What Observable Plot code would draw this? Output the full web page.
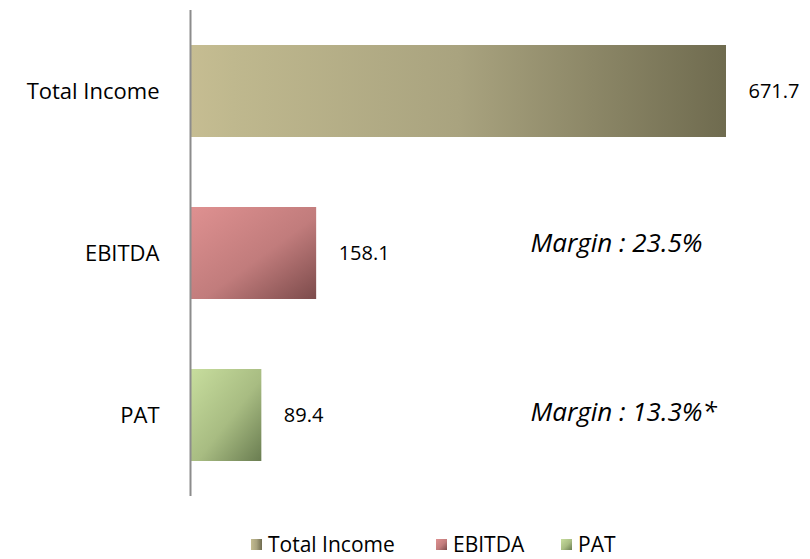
<!DOCTYPE html>
<html>
<head>
<meta charset="utf-8">
<script src="https://cdn.jsdelivr.net/npm/d3@7"></script>
<script src="https://cdn.jsdelivr.net/npm/@observablehq/plot@0.6"></script>
<style>
  html, body { margin: 0; padding: 0; background: #fff; }
  #wrap { position: relative; width: 810px; height: 559px; font-family: "Open Sans", sans-serif; overflow: hidden; }
  #legend { position: absolute; left: 0; top: 530px; width: 810px; height: 29px; font-size: 21px; color: #000; }
  .item { position: absolute; top: 3px; display: flex; align-items: center; white-space: nowrap; line-height: 22px; height: 22px; }
  .sw { width: 11px; height: 11px; margin-right: 6px; }
</style>
</head>
<body>
<div id="wrap">
  <div id="chart"></div>
  <div id="legend"></div>
</div>
<script>
const categories = ["Total Income", "EBITDA", "PAT"];
const values = [671.7, 158.1, 89.4];
const valueLabels = ["671.7", "158.1", "89.4"];
const marginLabels = ["", "Margin : 23.5%", "Margin : 13.3%*"];
const gradIds = ["gTI", "gEB", "gPAT"];
const gradStops = [
  [["0%", "#c6bd92"], ["8%", "#bfb88e"], ["50%", "#a9a37f"], ["100%", "#6f6b4f"]],
  [["0%", "#df9191"], ["55%", "#c17c7c"], ["100%", "#7c4b4b"]],
  [["0%", "#c8de9e"], ["55%", "#a8bc82"], ["100%", "#6a7d51"]]
];
const gradDiagonal = [false, true, true];

const rows = categories.map((c, i) => ({
  category: c, value: values[i], label: valueLabels[i], margin: marginLabels[i], grad: gradIds[i]
}));

const font = "Open Sans, sans-serif";
const marginStyle = { frameAnchor: "left", y: "category", text: "margin", textAnchor: "start", dx: 340, fontSize: 26, fontStyle: "italic", fill: "#000" };

const chart = Plot.plot({
  width: 810,
  height: 530,
  marginLeft: 190,
  marginRight: 84,
  marginTop: 10,
  marginBottom: 34,
  style: { fontFamily: font, background: "#fff" },
  x: { domain: [0, 671.7], axis: null },
  y: { domain: categories, axis: null, paddingInner: 0.43, paddingOuter: 0.21 },
  marks: [
    ...rows.map(r => Plot.barX(rows, {
      filter: d => d.category === r.category,
      x: "value", y: "category", fill: `url(#${r.grad})`
    })),
    Plot.ruleX([0], { stroke: "#8c8c8c", strokeWidth: 2 }),
    Plot.text(rows, { x: 0, y: "category", text: "category", textAnchor: "end", dx: -31, fontSize: 22, fill: "#000" }),
    Plot.text(rows, { x: "value", y: "category", text: "label", textAnchor: "start", dx: 22, fontSize: 20, fill: "#000" }),
    Plot.text(rows.filter(d => d.category === "EBITDA"), { ...marginStyle, dy: -10 }),
    Plot.text(rows.filter(d => d.category === "PAT"), { ...marginStyle, dy: -3 })
  ]
});

const defs = d3.select(chart).insert("defs", ":first-child");
gradIds.forEach((id, i) => {
  const g = defs.append("linearGradient").attr("id", id)
    .attr("x1", 0).attr("y1", 0).attr("x2", 1).attr("y2", gradDiagonal[i] ? 1 : 0);
  gradStops[i].forEach(([o, c]) => g.append("stop").attr("offset", o).attr("stop-color", c));
});

document.getElementById("chart").appendChild(chart);

const legendX = [251, 436, 561];
const legend = document.getElementById("legend");
categories.forEach((c, i) => {
  const item = document.createElement("div");
  item.className = "item";
  item.style.left = legendX[i] + "px";
  const sw = document.createElement("div");
  sw.className = "sw";
  const st = gradStops[i];
  sw.style.background = `linear-gradient(${gradDiagonal[i] ? "135deg" : "90deg"}, ${st.map(s => s[1] + " " + s[0]).join(", ")})`;
  const tx = document.createElement("span");
  tx.textContent = c;
  item.appendChild(sw);
  item.appendChild(tx);
  legend.appendChild(item);
});
</script>
</body>
</html>
